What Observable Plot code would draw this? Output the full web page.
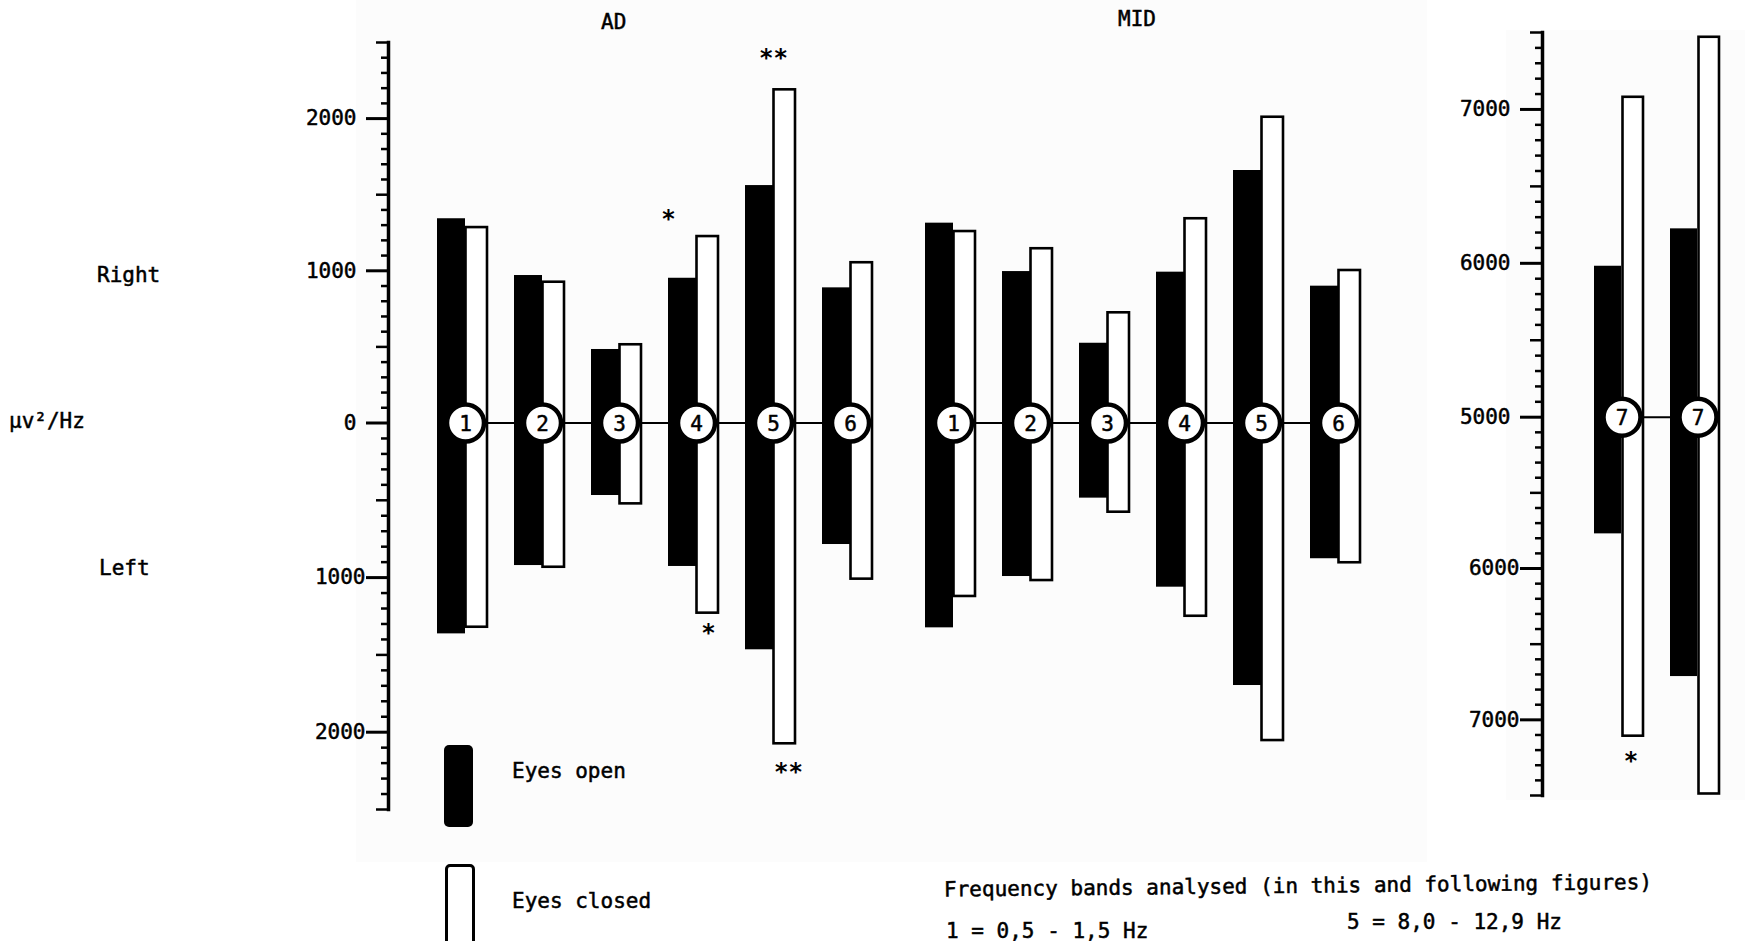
<!DOCTYPE html>
<html>
<head>
<meta charset="utf-8">
<script src="https://cdn.jsdelivr.net/npm/d3@7"></script>
<script src="https://cdn.jsdelivr.net/npm/@observablehq/plot@0.6"></script>
<style>
  html, body { margin: 0; padding: 0; background: #fff; }
  #fig { position: relative; width: 1745px; height: 941px; overflow: hidden;
         font-family: "DejaVu Sans Mono", monospace; color: #000; }
  #fig svg { position: absolute; left: 0; top: 0; }
  .lbl { position: absolute; white-space: nowrap; font-size: 21px; line-height: 1;
         transform: translateY(-50%); -webkit-text-stroke: 0.5px #000; }
  .sheet { position: absolute; background: #fcfcfc; }
  .swatch { position: absolute; box-sizing: border-box; border-radius: 5px; }
</style>
</head>
<body>
<div id="fig">
  <div class="sheet" style="left:356px;top:0;width:1071px;height:862px"></div>
  <div class="sheet" style="left:1506px;top:30px;width:239px;height:770px"></div>

  <div class="lbl" style="left:601px;top:22px">AD</div>
  <div class="lbl" style="left:1118px;top:19px">MID</div>
  <div class="lbl" style="left:97px;top:275px">Right</div>
  <div class="lbl" style="left:99px;top:568px">Left</div>
  <div class="lbl" style="left:9px;top:421px">µv²/Hz</div>

  <div class="swatch" style="left:444px;top:745px;width:29px;height:82px;background:#000"></div>
  <div class="lbl" style="left:512px;top:771px">Eyes open</div>
  <div class="swatch" style="left:445px;top:864px;width:30px;height:90px;background:#fff;border:3px solid #000"></div>
  <div class="lbl" style="left:512px;top:901px">Eyes closed</div>

  <div class="lbl" style="left:944px;top:890px;transform:translateY(-50%) rotate(-0.6deg);transform-origin:left center">Frequency bands analysed (in this and following figures)</div>
  <div class="lbl" style="left:946px;top:931px">1 = 0,5 - 1,5 Hz</div>
  <div class="lbl" style="left:1347px;top:922px">5 = 8,0 - 12,9 Hz</div>
</div>
<script>
// Mean spectral power (µv²/Hz) per frequency band, right and left hemisphere,
// eyes open vs eyes closed.
const bands = [1, 2, 3, 4, 5, 6];

const adOpenRight   = [1342, 969, 483, 951, 1560, 888];
const adClosedRight = [1284, 925, 514, 1225, 2189, 1053];
const adOpenLeft    = [1364, 922, 469, 928, 1467, 786];
const adClosedLeft  = [1321, 933, 523, 1230, 2075, 1010];

const midOpenRight   = [1313, 995, 524, 991, 1659, 899];
const midClosedRight = [1258, 1145, 724, 1342, 2009, 1002];
const midOpenLeft    = [1325, 993, 486, 1062, 1698, 878];
const midClosedLeft  = [1122, 1019, 577, 1250, 2054, 904];

// Band 7 is shown on its own scale, starting at 5000.
const band7Groups      = ["AD", "MID"];
const band7OpenRight   = [5981, 6224];
const band7ClosedRight = [7079, 7469];
const band7OpenLeft    = [5771, 6714];
const band7ClosedLeft  = [7108, 7490];

// Axis labels (right hemisphere up, left hemisphere down)
const mainTickLabels  = [2000, 1000, 0, -1000, -2000];
const band7TickLabels = [7000, 6000, 5000, -6000, -7000];

// Significance marks on the eyes-closed bars
const significance = [
  {panel: "AD", band: 4, side: "right", mark: "*"},
  {panel: "AD", band: 4, side: "left",  mark: "*"},
  {panel: "AD", band: 5, side: "right", mark: "**"},
  {panel: "AD", band: 5, side: "left",  mark: "**"},
  {panel: "7",  band: "AD", side: "left", mark: "*"}
];

const FONT = "DejaVu Sans Mono";

function rowsOf(keys, openR, closedR, openL, closedL, label) {
  return keys.map((k, i) => ({
    key: k, label: label ? label(k) : String(k),
    openRight: openR[i], closedRight: closedR[i],
    openLeft: openL[i], closedLeft: closedL[i]
  }));
}

const adRows  = rowsOf(bands, adOpenRight, adClosedRight, adOpenLeft, adClosedLeft);
const midRows = rowsOf(bands, midOpenRight, midClosedRight, midOpenLeft, midClosedLeft);
const b7Rows  = rowsOf(band7Groups, band7OpenRight, band7ClosedRight, band7OpenLeft, band7ClosedLeft, () => "7");

function starMarks(rows, panel, offsets) {
  return significance.filter(s => s.panel === panel).map((s, i) => {
    const row = rows.find(r => r.key === s.band);
    const o = offsets[i];
    return Plot.text([s], {
      x: d => d.band,
      y: d => d.side === "right" ? row.closedRight : -row.closedLeft,
      text: "mark",
      dx: o[0], dy: o[1],
      fill: "#000", fontSize: 24, fontWeight: "bold", fontFamily: FONT
    });
  });
}

function axisMarks(labels, lo, hi) {
  // ticks every 100, longer ones every 500, labelled ones every 1000
  const minor = [], medium = [];
  for (let v = lo; v <= hi; v += 100) {
    for (const s of [1, -1]) {
      if (v % 1000 === 0) continue;
      (v % 500 === 0 ? medium : minor).push(s * v);
    }
  }
  const up = labels.filter(v => v >= 0), down = labels.filter(v => v < 0);
  const common = {anchor: "left", label: null, stroke: "#000", fontFamily: FONT, fontSize: 21,
                  textStroke: "#000", textStrokeWidth: 0.5,
                  tickFormat: v => String(Math.abs(v))};
  return [
    Plot.axisY(minor, {...common, tickSize: 7, strokeWidth: 2.5, fill: "none"}),
    Plot.axisY(medium, {...common, tickSize: 12, strokeWidth: 2.5, fill: "none"}),
    Plot.axisY(up, {...common, tickSize: 22, tickPadding: 10, strokeWidth: 3, fill: "#000"}),
    Plot.axisY(down, {...common, tickSize: 22, tickPadding: 1, strokeWidth: 3, fill: "#000"}),
    Plot.frame({anchor: "left", stroke: "#000", strokeWidth: 3.5})
  ];
}

function panel({rows, xRange, yDomain, yRange, center, margins, extra = []}) {
  return Plot.plot({
    width: 1745, height: 941,
    ...margins,
    style: {background: "transparent", overflow: "visible"},
    x: {type: "band", domain: rows.map(r => r.key), range: xRange,
        paddingInner: 0.273, paddingOuter: 0.1365, axis: null},
    y: {type: "linear", domain: yDomain, range: yRange, axis: null},
    marks: [
      Plot.barY(rows, {x: "key", y1: d => -d.openLeft, y2: d => d.openRight,
                       fill: "#000", insetRight: 28}),
      Plot.barY(rows, {x: "key", y1: d => -d.closedLeft, y2: d => d.closedRight,
                       fill: "#fff", stroke: "#000", strokeWidth: 2.6,
                       insetLeft: 28.5, insetRight: 6}),
      Plot.line(rows, {x: "key", y: () => center, stroke: "#000", strokeWidth: 2}),
      Plot.dot(rows, {x: "key", y: () => center, r: 18.5, fill: "#fff",
                      stroke: "#000", strokeWidth: 4.5}),
      Plot.text(rows, {x: "key", y: () => center, text: "label", fontSize: 21,
                       fontFamily: FONT, fill: "#000", stroke: "#000",
                       strokeWidth: 0.5, dy: 1}),
      ...extra
    ]
  });
}

const mainY = {yDomain: [-2500, 0, 2500], yRange: [809, 422.5, 42], center: 0};

const fig = document.getElementById("fig");

fig.appendChild(panel({
  rows: adRows, xRange: [426.5, 889.1], ...mainY,
  margins: {marginLeft: 388, marginRight: 845, marginTop: 42, marginBottom: 132},
  extra: [
    ...axisMarks(mainTickLabels, 0, 2500),
    ...starMarks(adRows, "AD", [[-28, -17], [12, 20], [0, -32], [15, 29]])
  ]
}));

fig.appendChild(panel({
  rows: midRows, xRange: [913.4, 1376.6], ...mainY,
  margins: {marginLeft: 913, marginRight: 360, marginTop: 42, marginBottom: 132}
}));

fig.appendChild(panel({
  rows: b7Rows, xRange: [1584, 1736],
  yDomain: [-7500, -5000, 5000, 7500], yRange: [795, 416.7, 416.7, 32], center: 5000,
  margins: {marginLeft: 1542, marginRight: 0, marginTop: 32, marginBottom: 146},
  extra: [
    ...axisMarks(band7TickLabels, 5000, 7500),
    ...starMarks(b7Rows, "7", [[9, 25]])
  ]
}));
</script>
</body>
</html>
